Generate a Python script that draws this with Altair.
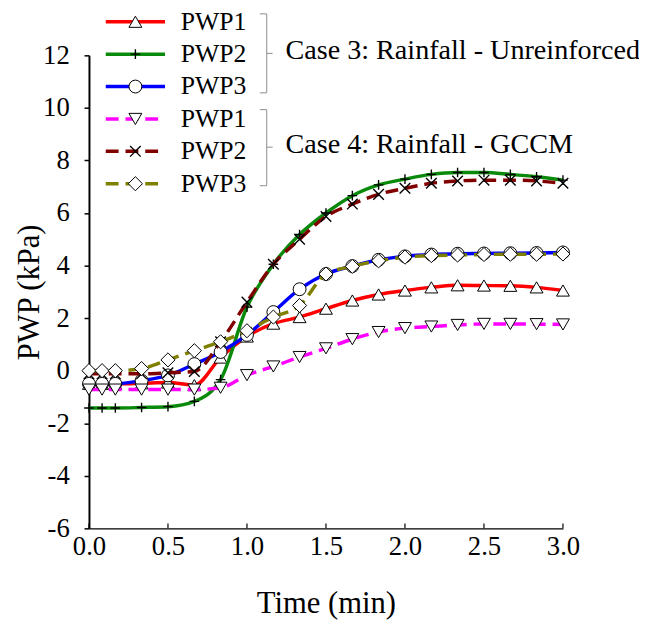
import altair as alt
import pandas as pd

FONT = "'Liberation Serif', 'Times New Roman', Times, 'DejaVu Serif', serif"

# ---------------- data ----------------
time_min = [0.0, 0.083, 0.167, 0.333, 0.5, 0.667, 0.833, 1.0, 1.167, 1.333,
            1.5, 1.667, 1.833, 2.0, 2.167, 2.333, 2.5, 2.667, 2.833, 3.0]

c3_pwp1 = [-0.5, -0.5, -0.5, -0.48, -0.45, -0.55, 0.5, 1.3, 1.79, 2.04,
           2.36, 2.67, 2.9, 3.05, 3.17, 3.25, 3.24, 3.23, 3.17, 3.05]
c3_pwp2 = [-1.42, -1.42, -1.42, -1.4, -1.37, -1.17, -0.34, 2.42, 4.05, 5.18,
           6.0, 6.66, 7.07, 7.29, 7.47, 7.54, 7.54, 7.47, 7.38, 7.25]
c3_pwp3 = [-0.5, -0.5, -0.5, -0.38, -0.18, 0.25, 0.71, 1.36, 2.23, 3.1,
           3.68, 3.98, 4.22, 4.35, 4.42, 4.45, 4.46, 4.47, 4.48, 4.5]
c4_pwp1 = [-0.72, -0.72, -0.72, -0.72, -0.72, -0.72, -0.65, -0.17, 0.16, 0.52,
           0.85, 1.2, 1.47, 1.62, 1.68, 1.74, 1.78, 1.78, 1.77, 1.76]
c4_pwp2 = [-0.12, -0.12, -0.12, -0.12, -0.08, -0.03, 1.1, 2.61, 4.05, 5.0,
           5.87, 6.34, 6.71, 6.94, 7.13, 7.22, 7.25, 7.25, 7.22, 7.13]
c4_pwp3 = [0.0, 0.0, 0.0, 0.08, 0.41, 0.76, 1.1, 1.52, 2.04, 2.48,
           3.68, 3.97, 4.18, 4.32, 4.38, 4.4, 4.42, 4.43, 4.43, 4.44]

series_labels = ["PWP1", "PWP2", "PWP3", "PWP1", "PWP2", "PWP3"]
group_labels = ["Case 3: Rainfall - Unreinforced", "Case 4: Rainfall - GCCM"]
x_ticks = [0.0, 0.5, 1.0, 1.5, 2.0, 2.5, 3.0]
y_ticks = [-6, -4, -2, 0, 2, 4, 6, 8, 10, 12]

series_values = [c3_pwp1, c3_pwp2, c3_pwp3, c4_pwp1, c4_pwp2, c4_pwp3]

# ---------------- styles ----------------
PLUS = "M-1,0L1,0M0,-1L0,1"
XMARK = "M-1,-1L1,1M-1,1L1,-1"
styles = [
    dict(color="#FF0000", dash=None, shape="triangle-up", size=170, open=False),
    dict(color="#0A8A0A", dash=None, shape=PLUS, size=95, open=True),
    dict(color="#0000FF", dash=None, shape="circle", size=170, open=False),
    dict(color="#FF00FF", dash=[13, 7], shape="triangle-down", size=170, open=False),
    dict(color="#800000", dash=[13, 7], shape=XMARK, size=115, open=True),
    dict(color="#808000", dash=[13, 7], shape="diamond", size=205, open=False),
]

W, H = 480, 479

x_scale = alt.Scale(domain=[0, 3], nice=False, zero=False)
y_scale = alt.Scale(domain=[-6, 12], nice=False, zero=False)

x_axis = alt.Axis(
    values=x_ticks, format=".1f", title="Time (min)", grid=False,
    ticks=False, tickSize=0, labelPadding=5, labelFlush=False,
    domainColor="black", domainWidth=1.3,
    labelFont=FONT, labelFontSize=27, labelColor="black",
    titleFont=FONT, titleFontSize=31, titleFontWeight="normal", titleColor="black",
    titleX=W / 2, titleY=76, titleBaseline="middle",
)
y_axis = alt.Axis(
    values=y_ticks, labelExpr="'' + datum.value", title="PWP (kPa)", grid=False,
    ticks=True, tickSize=5, tickWidth=1.5, tickColor="black", labelPadding=15,
    domainColor="black", domainWidth=2, labelFlush=False,
    labelFont=FONT, labelFontSize=27, labelColor="black",
    titleFont=FONT, titleFontSize=31, titleFontWeight="normal", titleColor="black",
    titleX=-60, titleY=H / 2, titleBaseline="middle", titleAngle=-90,
)

def xenc(field="t"):
    return alt.X(f"{field}:Q", scale=x_scale, axis=x_axis)

def yenc(field="v"):
    return alt.Y(f"{field}:Q", scale=y_scale, axis=y_axis)

def point_kw(st):
    if st["open"]:
        return dict(shape=st["shape"], size=st["size"], filled=False,
                    stroke="black", strokeWidth=1.4, opacity=1)
    return dict(shape=st["shape"], size=st["size"], filled=True,
                fill="white", stroke="black", strokeWidth=1, opacity=1,
                fillOpacity=1, strokeOpacity=1)

layers = []
for vals, st in zip(series_values, styles):
    df = pd.DataFrame({"t": time_min, "v": vals})
    line_kw = dict(color=st["color"], strokeWidth=3.5, interpolate="monotone")
    if st["dash"]:
        line_kw["strokeDash"] = st["dash"]
    layers.append(alt.Chart(df).mark_line(**line_kw).encode(x=xenc(), y=yenc()))
    layers.append(alt.Chart(df).mark_point(**point_kw(st)).encode(x=xenc(), y=yenc()))

# inside x ticks
tick_df = pd.DataFrame({"t": x_ticks})
layers.append(
    alt.Chart(tick_df).mark_rule(color="black", strokeWidth=1.2).encode(
        x=xenc(), y=alt.value(H), y2=alt.value(H - 5)
    )
)

# ---------------- legend ----------------
one = pd.DataFrame({"a": [0]})
row0, step = -34, 32.8
for i, (lab, st) in enumerate(zip(series_labels, styles)):
    yr = row0 + step * i
    rk = dict(color=st["color"], strokeWidth=3.5)
    if st["dash"]:
        rk["strokeDash"] = st["dash"]
    layers.append(alt.Chart(one).mark_rule(**rk).encode(
        x=alt.value(17), x2=alt.value(77), y=alt.value(yr)))
    layers.append(alt.Chart(one).mark_point(**point_kw(st)).encode(
        x=alt.value(47), y=alt.value(yr)))
    layers.append(alt.Chart(one).mark_text(
        text=lab, align="left", baseline="middle", font=FONT, fontSize=26, color="black"
    ).encode(x=alt.value(93), y=alt.value(yr)))

# braces + group labels
brace_color = "#8c8c8c"
for (top, bot, mid), lab in zip([(-42, 38, -2), (55, 132, 93)], group_labels):
    xv = 180
    segs = [
        (xv - 7, xv, top, top),
        (xv, xv, top, bot),
        (xv - 7, xv, bot, bot),
        (xv, xv + 6, mid, mid),
    ]
    for x1, x2, y1, y2 in segs:
        layers.append(alt.Chart(one).mark_rule(color=brace_color, strokeWidth=1).encode(
            x=alt.value(x1), x2=alt.value(x2), y=alt.value(y1), y2=alt.value(y2)))
    layers.append(alt.Chart(one).mark_text(
        text=lab, align="left", baseline="middle", font=FONT, fontSize=28.5, color="black"
    ).encode(x=alt.value(199), y=alt.value(mid - 3)))

chart = alt.layer(*layers).properties(
    width=W, height=H,
    autosize=alt.AutoSizeParams(type="none"),
    padding={"left": 82, "top": 44, "right": 77, "bottom": 99},
).configure_view(stroke=None)

chart.save("out.html", embed_options={"renderer": "svg", "actions": False})
